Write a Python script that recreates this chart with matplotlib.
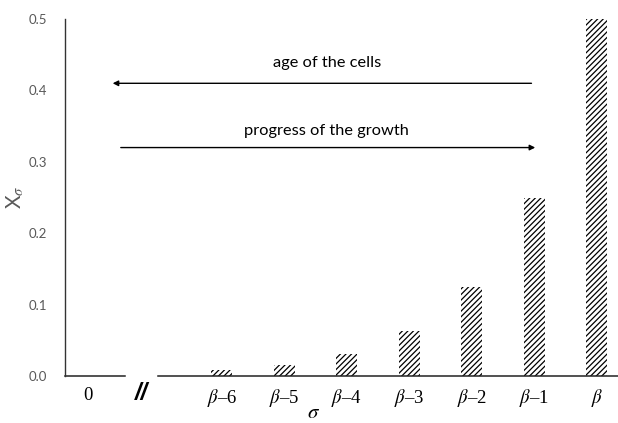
import numpy as np
import matplotlib.pyplot as plt

# generation fractions X_sigma for sigma = beta-6 ... beta
labels = ['$\\beta$\u20136', '$\\beta$\u20135', '$\\beta$\u20134', '$\\beta$\u20133',
          '$\\beta$\u20132', '$\\beta$\u20131', '$\\beta$']
values = [0.0078, 0.0156, 0.0313, 0.0625, 0.125, 0.25, 0.5]
yticks = [0.0, 0.1, 0.2, 0.3, 0.4, 0.5]

plt.rcParams['mathtext.fontset'] = 'stix'
plt.rcParams['hatch.linewidth'] = 0.9

fig = plt.figure(figsize=(6.18, 4.23), dpi=100)
ax = fig.add_axes([0.105, 0.111, 0.895, 0.844])

x = np.arange(len(values))
ax.bar(x, values, width=0.34, color='white', edgecolor='black', hatch='//////', linewidth=0)

ax.set_xlim(-2.51, 6.34)
ax.set_ylim(0, 0.5)

# x ticks: "0" followed by the broken part of the axis, then the beta generations
ax.set_xticks([-2.14] + list(x))
ax.set_xticklabels(['0'] + labels, family='Liberation Serif', fontsize=13.5)
ax.tick_params(axis='x', length=0, pad=8)
ax.set_yticks(yticks)
ax.set_yticklabels(['%.1f' % v for v in yticks], family='Lato', fontsize=9.5, color='#595959')
ax.tick_params(axis='y', length=0, pad=13)

for s in ['top', 'right', 'bottom']:
    ax.spines[s].set_visible(False)
ax.spines['left'].set_color('#333333')
ax.spines['left'].set_linewidth(1.0)

# broken x axis
ax.plot([-2.51, -1.55], [0, 0], color='#222222', lw=1.1, clip_on=False)
ax.plot([-1.02, 6.34], [0, 0], color='#222222', lw=1.1, clip_on=False)
ax.text(-1.28, -0.009, '//', family='Liberation Sans', fontsize=17, fontweight='bold',
        style='italic', ha='center', va='top')

ax.set_xlabel('$\\sigma$', fontsize=15, labelpad=0)
ax.xaxis.set_label_coords(0.45, -0.072)
ax.xaxis.label.set_va('top')
ax.set_ylabel('$\\mathregular{X}_{\\sigma}$', fontsize=15, color='#595959', family='Lato')
ax.yaxis.set_label_coords(-0.07, 0.5)

# annotation arrows
ax.annotate('', xy=(-1.79, 0.41), xytext=(5.0, 0.41),
            arrowprops=dict(arrowstyle='-|>', color='black', lw=1.0, mutation_scale=8))
ax.text(1.68, 0.428, 'age of the cells', family='Lato', fontsize=11.8, ha='center', va='bottom')
ax.annotate('', xy=(5.06, 0.32), xytext=(-1.66, 0.32),
            arrowprops=dict(arrowstyle='-|>', color='black', lw=1.0, mutation_scale=8))
ax.text(1.68, 0.334, 'progress of the growth', family='Lato', fontsize=11.8, ha='center', va='bottom')

fig.savefig('out.png', dpi=100)
